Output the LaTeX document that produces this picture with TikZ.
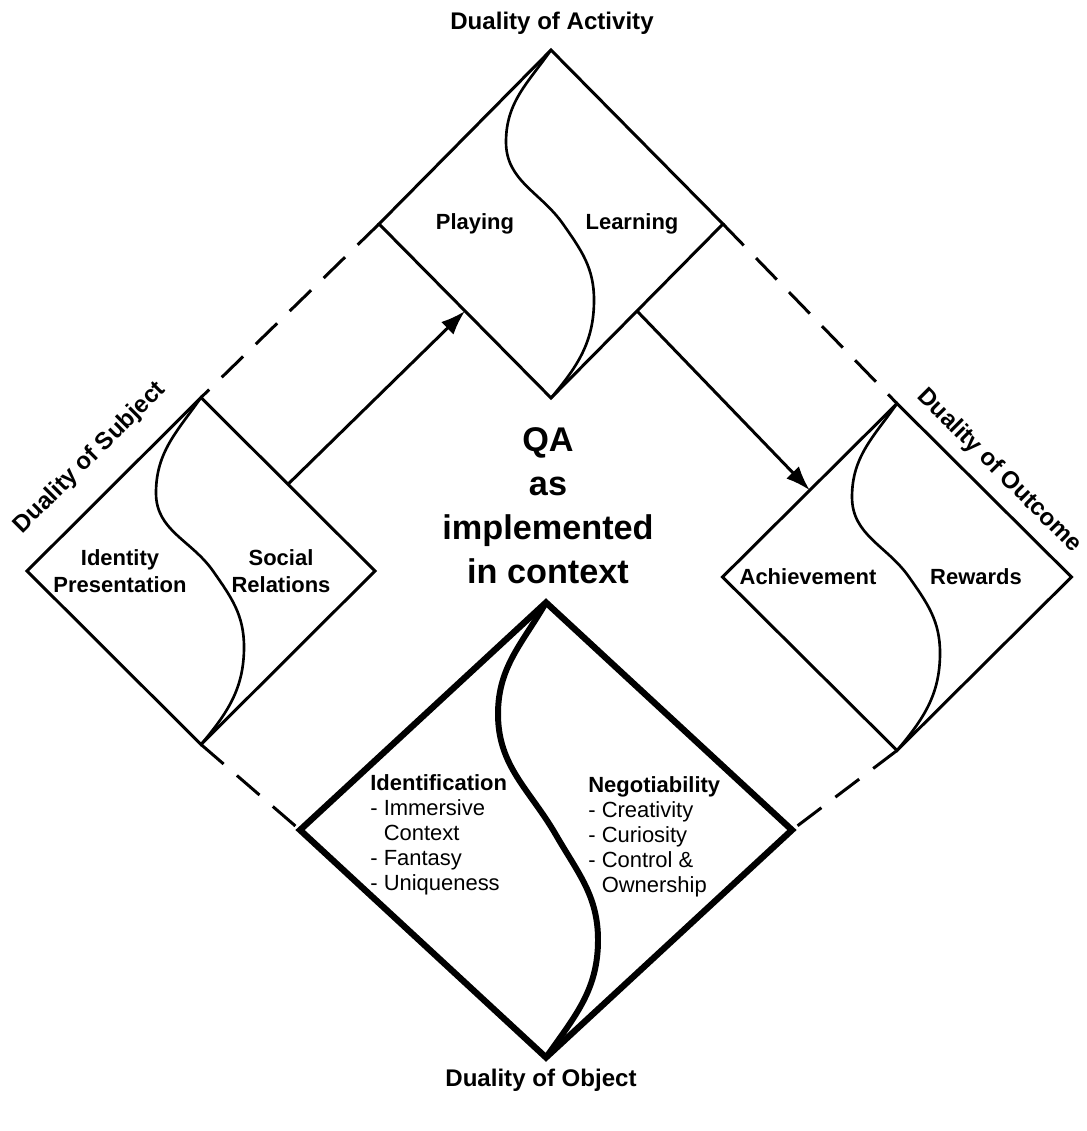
\documentclass[tikz,border=0pt]{standalone}
\usepackage{fontspec}
\setmainfont{Liberation Sans}
\usetikzlibrary{shapes.geometric, arrows.meta, calc}

\begin{document}
\begin{tikzpicture}[x=0.02cm, y=0.02cm,
    duality/.style={diamond, 
      draw, 
      line width=1.7pt, 
      inner sep=0pt, 
      outer sep=0pt},
    wave/.style={line width=1.5pt},
    outeredge/.style={line width=1.7pt, 
      dash pattern=on 17pt off 10pt},
    flow/.style={line width=1.7pt, 
      -{Latex[length=14pt, width=10pt]}},
    title/.style={font=\fontsize{13.7}{16}\selectfont\bfseries},
    part/.style={font=\fontsize{12.5}{15.3}\selectfont\bfseries, 
      align=center},
    items/.style={font=\fontsize{12.5}{14.2}\selectfont, 
      align=left, 
      anchor=north west, 
      inner sep=0pt}]

  \useasboundingbox (0,0) rectangle (1087,-1131);

% DIAMONDS

  \node [duality, minimum width=6.88cm, minimum height=6.96cm] (activity) at (551,-224) {};
  \node [duality, minimum width=6.96cm, minimum height=6.94cm] (subject) at (201,-571) {};
  \node [duality, minimum width=6.98cm, minimum height=6.94cm] (outcome) at (897,-577) {};
  \node [duality, line width=3.6pt, 
    minimum width=9.84cm, minimum height=9.1cm] (object) at (546,-830) {};

% S CURVES

  \draw[wave] (activity.north) to[out=-125,in=90] ($(activity.center)+(-45,82)$) 
    to[out=-90,in=125] ($(activity.center)+(12,0)$) 
    to[out=-55,in=90] ($(activity.center)+(43,-76)$) 
    to[out=-90,in=50] (activity.south);
  \draw[wave] (subject.north) to[out=-125,in=90] ($(subject.center)+(-45,78)$) 
    to[out=-90,in=125] ($(subject.center)+(12,0)$) 
    to[out=-55,in=90] ($(subject.center)+(43,-76)$) 
    to[out=-90,in=50] (subject.south);
  \draw[wave] (outcome.north) to[out=-125,in=90] ($(outcome.center)+(-45,80)$) 
    to[out=-90,in=125] ($(outcome.center)+(12,0)$) 
    to[out=-55,in=90] ($(outcome.center)+(43,-76)$) 
    to[out=-90,in=50] (outcome.south);
  \draw[wave, line width=3.4pt] (object.north) to[out=-120,in=90] ($(object.center)+(-48,116)$) 
    to[out=-90,in=120] ($(object.center)+(10,-5)$) 
    to[out=-60,in=90] ($(object.center)+(52,-110)$) 
    to[out=-90,in=55] (object.south);

% OUTER EDGES

  \draw[outeredge] (activity.west) -- (subject.north);
  \draw[outeredge] (activity.east) -- (outcome.north);
  \draw[outeredge] (subject.south) -- (object.west);
  \draw[outeredge] (outcome.south) -- (object.east);

% ARROWS

  \draw[flow] (subject.north east) -- (activity.south west);
  \draw[flow] (activity.south east) -- (outcome.north west);

% LABELS

  \node [title] (acttitle) at (552,-23) {Duality of Activity};
  \node [title] (objtitle) at (541,-1080) {Duality of Object};
  \node [title, rotate=45] (subjtitle) at (90,-458) {Duality of Subject};
  \node [title, rotate=-45] (outctitle) at (999,-471) {Duality of Outcome};

  \node [part] (playing) at (475,-224) {Playing};
  \node [part] (learning) at (632,-224) {Learning};
  \node [part] (identity) at (120,-571) {Identity\\Presentation};
  \node [part] (social) at (281,-571) {Social\\Relations};
  \node [part] (achieve) at (808,-577) {Achievement};
  \node [part] (rewards) at (976,-577) {Rewards};

  \node [font=\fontsize{19.5}{25}\selectfont\bfseries, align=center] (qa) at (548,-506) 
    {QA\\as\\implemented\\in context};

  \node [items] (identif) at (370,-774) {\textbf{Identification}\\
    - Immersive\\
    \phantom{- }Context\\
    - Fantasy\\
    - Uniqueness};
  \node [items] (negot) at (588,-776) {\textbf{Negotiability}\\
    - Creativity\\
    - Curiosity\\
    - Control \&\\
    \phantom{- }Ownership};

\end{tikzpicture}
\end{document}
